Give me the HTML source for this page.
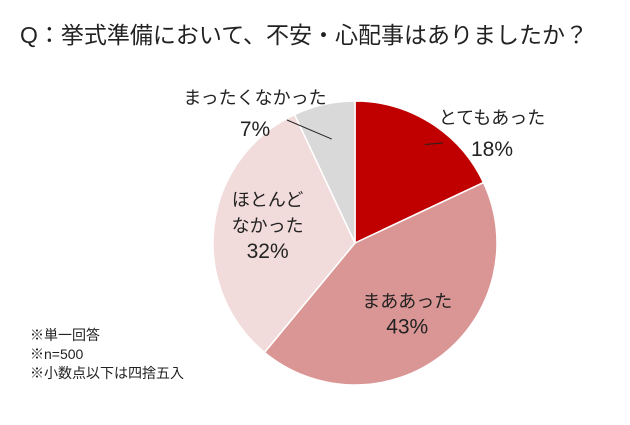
<!DOCTYPE html>
<html><head><meta charset="utf-8"><style>
body{margin:0;background:#fff;width:630px;height:425px;overflow:hidden;font-family:"Liberation Sans","Noto Sans CJK JP",sans-serif;}
</style></head><body>
<svg width="630" height="425" style="position:absolute;left:0;top:0">
<text x="20" y="43" font-size="23" fill="#222">Q：挙式準備において、不安・心配事はありましたか？</text>
<g id="slices"></g>
<g id="labels" font-size="18" fill="#222" text-anchor="middle"></g>
<g font-size="14" fill="#222">
<text x="30" y="340">※単一回答</text>
<text x="30" y="359">※n=500</text>
<text x="30" y="378">※小数点以下は四捨五入</text>
</g>
</svg>
<script>
const categories=["とてもあった","まああった","ほとんどなかった","まったくなかった"];
const values=[18,43,32,7];
const colors=["#C00000","#DA9694","#F2DCDB","#D9D9D9"];
const cx=355,cy=243,r=142;
const NS="http://www.w3.org/2000/svg";
const g=document.getElementById('slices'),lg=document.getElementById('labels');
const total=values.reduce((a,b)=>a+b,0);
let a0=0;
function pt(a,rr){return [cx+rr*Math.sin(a),cy-rr*Math.cos(a)];}
function addText(s,x,y,size,name){
  const t=document.createElementNS(NS,'text');
  t.setAttribute('x',x);t.setAttribute('y',y);t.setAttribute('font-size',size);
  t.textContent=s;
  
  
  lg.appendChild(t);
}
function addLine(x1,y1,x2,y2,name){
  const l=document.createElementNS(NS,'line');
  l.setAttribute('x1',x1);l.setAttribute('y1',y1);l.setAttribute('x2',x2);l.setAttribute('y2',y2);
  l.setAttribute('stroke','#222');
  
  
  lg.appendChild(l);
}
values.forEach((v,i)=>{
  const a1=a0+v/total*2*Math.PI;
  const p0=pt(a0,r),p1=pt(a1,r);
  const p=document.createElementNS(NS,'path');
  p.setAttribute('d',`M${cx},${cy}L${p0[0]},${p0[1]}A${r},${r} 0 ${a1-a0>Math.PI?1:0} 1 ${p1[0]},${p1[1]}Z`);
  p.setAttribute('fill',colors[i]);
  p.setAttribute('stroke','#fff');p.setAttribute('stroke-width','1.5');
  
  
  g.appendChild(p);
  const mid=(a0+a1)/2;
  if(i===0){
    const e=pt(mid+0.05,r*0.85);
    addLine(e[0],e[1],443,143,'leader-line-1');
    addText(categories[i],492,124,18,'category-label-1');
    addText(v+'%',492,156,21,'value-label-1');
  }else if(i===3){
    const e=pt(mid,r*0.75);
    addLine(287,120,e[0],e[1],'leader-line-4');
    addText(categories[i],255,104,18,'category-label-4');
    addText(v+'%',255,136,21,'value-label-4');
  }else if(i===2){
    const q=pt(mid,r*0.62);
    addText("ほとんど",q[0],q[1]-26,18,'category-label-3a');
    addText("なかった",q[0],q[1],18,'category-label-3b');
    addText(v+'%',q[0],q[1]+26,21,'value-label-3');
  }else{
    const q=pt(mid,r*0.6);
    addText(categories[i],q[0],q[1]-3,18,'category-label-2');
    addText(v+'%',q[0],q[1]+23,21,'value-label-2');
  }
  a0=a1;
});
</script>
</body></html>
